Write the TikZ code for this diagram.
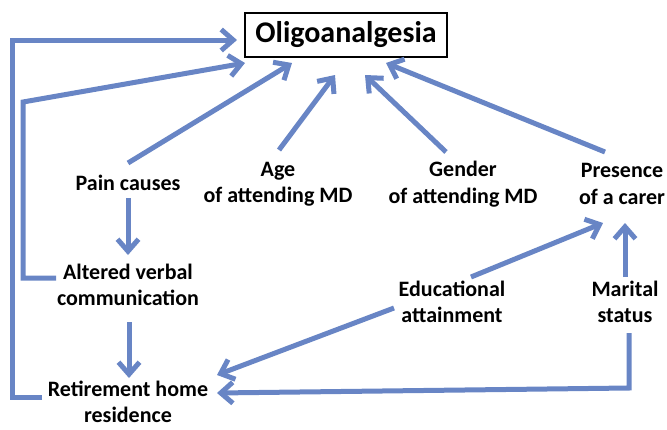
\documentclass[tikz,border=0pt]{standalone}
\usepackage{fontspec}
\setmainfont{Carlito}
\usetikzlibrary{arrows.meta}
\definecolor{arrblue}{RGB}{104,133,197}
\tikzset{
  x=1pt, y=1pt,
  lbl/.style={font=\bfseries\fontsize{22}{26.5}\selectfont, align=center, inner sep=2pt},
  arr/.style={draw=arrblue, line width=5pt, -{Straight Barb[length=12pt,width=21pt]}}
}
\begin{document}
\begin{tikzpicture}
\useasboundingbox (0,0) rectangle (667,-429);
\node[draw=black, line width=1.3pt, minimum width=202pt, minimum height=44pt, inner sep=0pt,
      font=\bfseries\fontsize{30}{32}\selectfont] (oligo) at (346,-35) {Oligoanalgesia};
\node[lbl] (pain) at (128,-183) {Pain causes};
\node[lbl] (age) at (278,-184) {Age\\of attending MD};
\node[lbl] (gender) at (463,-184) {Gender\\of attending MD};
\node[lbl] (carer) at (622,-184) {Presence\\of a carer};
\node[lbl] (altered) at (128,-285) {Altered verbal\\communication};
\node[lbl] (edu) at (452,-302) {Educational\\attainment};
\node[lbl] (marital) at (625,-302) {Marital\\status};
\node[lbl, inner sep=0pt] (retire) at (128,-402) {Retirement home\\residence};

% outer loop from retirement home
\draw[arr] ([shift={(-86,5)}]retire.center) -- ++(-30,0) |- ([shift={(-109,-5)}]oligo.center);
% loop from altered verbal communication
\draw[arr] ([shift={(-72,7)}]altered.center) -- ++(-33,0) -- ++(0,176) -- ([shift={(-101,-28)}]oligo.center);
% direct arrows to oligoanalgesia
\draw[arr] ([shift={(0,20)}]pain.center) -- ([shift={(-54,-28)}]oligo.center);
\draw[arr] ([shift={(1,34)}]age.center) -- ([shift={(-11,-40)}]oligo.center);
\draw[arr] ([shift={(-17,32)}]gender.center) -- ([shift={(19,-40)}]oligo.center);
\draw[arr] ([shift={(-17,32)}]carer.center) -- ([shift={(40,-28)}]oligo.center);
% vertical chain
\draw[arr] ([shift={(0,-15)}]pain.center) -- ([shift={(0,30)}]altered.center);
\draw[arr] ([shift={(1,-37)}]altered.center) -- ([shift={(1,24)}]retire.center);
% educational attainment
\draw[arr] ([shift={(19,25)}]edu.center) -- ([shift={(-19,-39)}]carer.center);
\draw[arr] ([shift={(-58,-6)}]edu.center) -- ([shift={(89,27)}]retire.center);
% marital status
\draw[arr] ([shift={(0,25)}]marital.center) -- ([shift={(3,-39)}]carer.center);
\draw[arr] ([shift={(4,-31)}]marital.center) -- ++(0,-55) -- ([shift={(89,9)}]retire.center);
\end{tikzpicture}
\end{document}
